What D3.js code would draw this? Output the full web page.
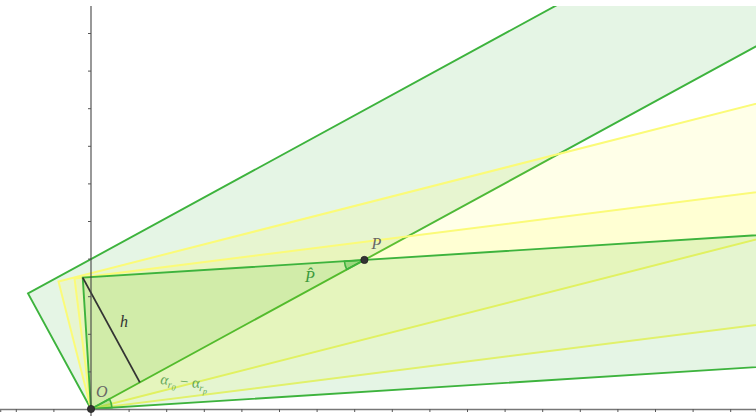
<!DOCTYPE html>
<html>
<head>
<meta charset="utf-8">
<script src="https://cdn.jsdelivr.net/npm/d3@7"></script>
<style>
  body { margin: 0; background: #fff; }
  svg { display: block; }
  .lbl { font-family: "Liberation Serif", "DejaVu Serif", serif; font-style: italic; }
</style>
</head>
<body>
<svg id="fig" width="756" height="416"></svg>
<script>
// strip directions (degrees from the x axis), all anchored at O
const stripAngles = [28.6, 14.3, 7.2, 3.6];
const stripKinds = ["green", "yellow", "yellow", "green"];
const stripWidth = 3.5;          // h, in axis units
const stripLength = 40;
const xTickValues = d3.range(-2, 18);
const yTickValues = d3.range(1, 11);

const width = 756, height = 416;
const unit = 37.6;
const x = d3.scaleLinear().domain([-91 / unit, (width - 91) / unit]).range([0, width]);
const y = d3.scaleLinear().domain([-(height - 409) / unit, 409 / unit]).range([height, 0]);

const colors = {
    green: { fill: "rgba(0,153,0,0.1)", stroke: "#3db33d", sw: 1.9 },
    yellow: { fill: "rgba(255,255,0,0.09)", stroke: "#fbfb78", sw: 2 }
};

const svg = d3.select("#fig");
const rad = a => a * Math.PI / 180;
const pt = p => [x(p[0]), y(p[1])];

svg.append("clipPath").attr("id", "clip")
    .append("rect").attr("x", 0).attr("y", 6).attr("width", width).attr("height", height - 6);

const g = svg.append("g").attr("clip-path", "url(#clip)");

// rectangle corners for one strip
function stripCorners(a) {
    const t = rad(a);
    const d = [Math.cos(t), Math.sin(t)];
    const n = [-Math.sin(t), Math.cos(t)];
    return [
        [0, 0],
        [n[0] * stripWidth, n[1] * stripWidth],
        [n[0] * stripWidth + d[0] * stripLength, n[1] * stripWidth + d[1] * stripLength],
        [d[0] * stripLength, d[1] * stripLength]
    ];
}

const line = d3.line().x(p => x(p[0])).y(p => y(p[1]));
const strips = stripAngles.map((a, i) => ({ angle: a, kind: stripKinds[i], pts: stripCorners(a) }));

g.selectAll("path.strip").data(strips).join("path")
    .attr("class", "strip")
    .attr("d", d => line(d.pts) + "Z")
    .attr("fill", d => colors[d.kind].fill)
    .attr("stroke", d => colors[d.kind].stroke)
    .attr("stroke-width", d => colors[d.kind].sw);

// P: where the steepest strip's lower edge meets the flattest strip's upper edge
const a1 = rad(stripAngles[0]), a2 = rad(stripAngles[3]);
const tP = stripWidth / Math.sin(a1 - a2);
const P = [tP * Math.cos(a1), tP * Math.sin(a1)];
const corner2 = strips[3].pts[1];
const tF = stripWidth * Math.sin(a1 - a2);
const foot = [tF * Math.cos(a1), tF * Math.sin(a1)];

// angle sectors
function sector(center, from, to, rpx) {
    const c = pt(center);
    const p0 = [c[0] + rpx * Math.cos(from), c[1] - rpx * Math.sin(from)];
    const p1 = [c[0] + rpx * Math.cos(to), c[1] - rpx * Math.sin(to)];
    return `M${c[0]},${c[1]}L${p0[0]},${p0[1]}A${rpx},${rpx} 0 0 0 ${p1[0]},${p1[1]}Z`;
}
const angToCorner = Math.PI + a2;   // from P back along the flat edge
const angToO = Math.PI + a1;        // from P back towards O
g.append("path").attr("d", sector(P, angToCorner, angToO, 20))
    .attr("fill", "rgba(0,153,0,0.25)").attr("stroke", "#3db33d").attr("stroke-width", 1.6);
g.append("path").attr("d", sector([0, 0], a2, a1, 21))
    .attr("fill", "rgba(0,153,0,0.2)").attr("stroke", "#3db33d").attr("stroke-width", 1.6);

// h segment
g.append("path").attr("d", line([corner2, foot]))
    .attr("stroke", "#333").attr("stroke-width", 1.8).attr("fill", "none");

// axes
const axX = svg.append("g").attr("transform", `translate(0,${y(0)})`)
    .call(d3.axisBottom(x).tickValues(xTickValues.filter(v => v !== 0)).tickSize(3).tickFormat(""));
axX.select(".domain").attr("stroke", "#777").attr("stroke-width", 1.6);
axX.selectAll(".tick line").attr("stroke", "#555");

const axY = svg.append("g").attr("transform", `translate(${x(0)},0)`)
    .call(d3.axisLeft(y).tickValues(yTickValues).tickSize(3).tickFormat(""));
axY.select(".domain").attr("d", `M0,6V${height}`).attr("stroke", "#444").attr("stroke-width", 1.1);
axY.selectAll(".tick line").attr("stroke", "#555");

// points
[[0, 0], P].forEach(p => {
    svg.append("circle").attr("cx", x(p[0])).attr("cy", y(p[1])).attr("r", 3.6)
        .attr("fill", "#333").attr("stroke", "#222").attr("stroke-width", 0.8);
});

// labels
svg.append("text").attr("class", "lbl").attr("x", x(0) + 5).attr("y", y(0) - 12)
    .attr("font-size", 16).attr("fill", "#666").text("O");
svg.append("text").attr("class", "lbl").attr("x", x(P[0]) + 7).attr("y", y(P[1]) - 11)
    .attr("font-size", 16).attr("fill", "#666").text("P");
svg.append("text").attr("class", "lbl").attr("x", 120).attr("y", 327)
    .attr("font-size", 16).attr("fill", "#333").text("h");
svg.append("text").attr("class", "lbl").attr("x", 305).attr("y", 282)
    .attr("font-size", 16).attr("fill", "#3c9a3c").text("P\u0302");

const al = svg.append("text").attr("class", "lbl")
    .attr("transform", "translate(160,384) rotate(6)")
    .attr("font-size", 15).attr("fill", "#64a858");
al.append("tspan").text("α");
al.append("tspan").attr("font-size", 10).attr("dy", 3).text("r");
al.append("tspan").attr("font-size", 8).attr("dy", 2).text("0");
al.append("tspan").attr("dy", -5).attr("font-style", "normal").text(" − α");
al.append("tspan").attr("font-size", 10).attr("dy", 3).text("r");
al.append("tspan").attr("font-size", 8).attr("dy", 2).text("p");
</script>
</body>
</html>
